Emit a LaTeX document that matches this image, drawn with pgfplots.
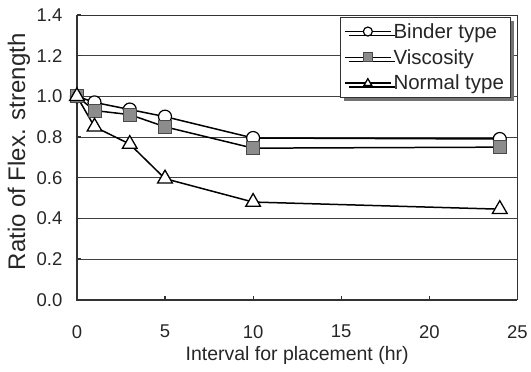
\documentclass[border=0pt]{standalone}
\usepackage{pgfplots}
\pgfplotsset{compat=1.18}
\usepackage{fontspec}
\setmainfont{Liberation Sans}
\usetikzlibrary{calc,shadows}
\definecolor{sqfill}{HTML}{8C8C8C}
\definecolor{sqdraw}{HTML}{4A4A4A}
\begin{document}
\begin{tikzpicture}
\begin{axis}[
  scale only axis, width=441pt, height=285pt,
  xmin=0, xmax=25, ymin=0, ymax=1.4,
  xtick={0,5,10,15,20,25}, ytick={0,0.2,0.4,0.6,0.8,1.0,1.2,1.4},
  tick align=inside, xtick pos=bottom, ytick pos=left, major tick length=4pt,
  ymajorgrids, grid style={line width=0.9pt, color=black!75},
  axis line style={line width=0.9pt, black!80},
  tick style={line width=1.2pt, black!80},
  clip=false,
  /pgf/number format/assume math mode=true,
  yticklabel style={/pgf/number format/fixed, /pgf/number format/precision=1, /pgf/number format/fixed zerofill, font=\fontsize{18.5}{20}\selectfont, xshift=-11pt, text=black!85},
  xticklabel style={font=\fontsize{18.5}{20}\selectfont, yshift=-22pt, text=black!85},
  xlabel={Interval for placement (hr)},
  ylabel={Ratio of Flex. strength},
  xlabel style={at={(axis description cs:0.5,-0.196)}, anchor=center, font=\fontsize{19.5}{21}\selectfont, text=black!85},
  ylabel style={at={(axis description cs:-0.1315,0.519)}, anchor=center, font=\fontsize{24}{26}\selectfont, text=black!85},
  legend style={at={(0.984,0.993)}, anchor=north east, draw=black!80, line width=0.8pt, fill=white,
    drop shadow={shadow xshift=4pt, shadow yshift=-4pt, fill=black!55, opacity=1},
    font=\fontsize{20.5}{22}\selectfont, text=black!85, inner xsep=4pt, inner ysep=4pt, row sep=5.5pt,
    cells={anchor=west}},
  legend image code/.code={\draw[mark repeat=2,mark phase=2,#1,mark size=4.5pt] plot coordinates {(0pt,0pt) (23pt,0pt) (46pt,0pt)};},
]
\addplot[black, line width=1.5pt, mark=*, mark size=6.5pt, mark options={fill=white, draw=black, line width=1.2pt}]
  coordinates {(0,1.0) (1,0.97) (3,0.935) (5,0.90) (10,0.795) (24,0.79)};
\addlegendentry{Binder type}
\addplot[black, line width=1.5pt, mark=square*, mark size=6.5pt, mark options={fill=sqfill, draw=sqdraw, line width=1pt}]
  coordinates {(0,1.0) (1,0.93) (3,0.91) (5,0.85) (10,0.745) (24,0.75)};
\addlegendentry{Viscosity}
\addplot[black, line width=1.5pt, mark=triangle*, mark size=8.5pt, mark options={fill=white, draw=black, line width=1.3pt}]
  coordinates {(0,1.0) (1,0.85) (3,0.765) (5,0.595) (10,0.48) (24,0.445)};
\addlegendentry{Normal type}
\draw[line width=2pt, black!80] (rel axis cs:0,1) -- (rel axis cs:0,0) -- (rel axis cs:1,0);
\end{axis}
\useasboundingbox ($(current axis.south west)+(-77pt,-72pt)$) rectangle ($(current axis.north east)+(13pt,15pt)$);
\end{tikzpicture}
\end{document}
